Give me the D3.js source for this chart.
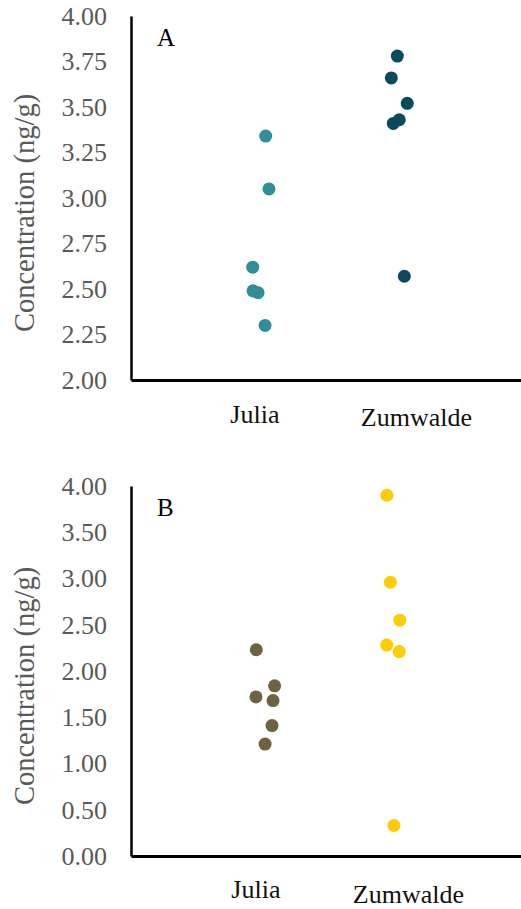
<!DOCTYPE html>
<html>
<head>
<meta charset="utf-8">
<script src="https://cdn.jsdelivr.net/npm/d3@7"></script>
<style>
  body { margin: 0; background: #fff; }
  svg text { font-family: "Times New Roman", "Liberation Serif", Times, "DejaVu Serif", serif !important; }
</style>
</head>
<body>
<div id="chart"></div>
<script>
// categories on the x axis
const categories = ['Julia', 'Zumwalde'];

// panel A values (ng/g) and jittered x positions
const aJuliaY = [3.34, 3.05, 2.62, 2.49, 2.48, 2.30];
const aJuliaX = [1.079, 1.099, 0.999, 1.001, 1.032, 1.075];
const aZumY = [3.78, 3.66, 3.52, 3.41, 3.43, 2.57];
const aZumX = [1.889, 1.852, 1.950, 1.864, 1.901, 1.932];
const aTicks = [2.00, 2.25, 2.50, 2.75, 3.00, 3.25, 3.50, 3.75, 4.00];

// panel B values (ng/g) and jittered x positions
const bJuliaY = [2.23, 1.84, 1.72, 1.68, 1.41, 1.21];
const bJuliaX = [1.021, 1.134, 1.019, 1.124, 1.118, 1.075];
const bZumY = [3.90, 2.96, 2.55, 2.28, 2.21, 0.33];
const bZumX = [1.825, 1.846, 1.904, 1.824, 1.901, 1.868];
const bTicks = [0.00, 0.50, 1.00, 1.50, 2.00, 2.50, 3.00, 3.50, 4.00];

const width = 521, height = 909;

const svg = d3.select('#chart').append('svg')
  .attr('width', width)
  .attr('height', height);

const x = d3.scaleLinear().domain([0.25, 2.65]).range([131, 521]);

function drawPanel(opts) {
  const y = d3.scaleLinear().domain(opts.domain).range([opts.bottom, opts.top]);
  const g = svg.append('g');

  // y axis (no tick marks, just the line and labels)
  const yAxis = g.append('g')
    .attr('transform', `translate(${x.range()[0]},0)`)
    .call(d3.axisLeft(y).tickValues(opts.ticks).tickSize(0).tickPadding(24).tickFormat(d3.format('.2f')));
  yAxis.attr('font-family', null);
  yAxis.select('.domain').attr('stroke', '#000').attr('stroke-width', 2.5);
  yAxis.selectAll('text')
    .attr('fill', '#595959')
    .style('font-size', '26px');

  // x axis line only
  const xAxis = g.append('g')
    .attr('transform', `translate(0,${opts.bottom})`)
    .call(d3.axisBottom(x).tickValues([]).tickSizeOuter(0));
  xAxis.select('.domain').attr('stroke', '#000').attr('stroke-width', 3);

  // category labels
  g.selectAll('.cat')
    .data(categories)
    .enter().append('text')
    .attr('x', (d, i) => x(i + 1) + opts.catShift[i])
    .attr('y', (d, i) => opts.bottom + opts.catDy[i])
    .attr('text-anchor', 'middle')
    .style('font-size', '26px')
    .attr('fill', '#111')
    .text(d => d);

  // y axis title
  g.append('text')
    .attr('transform', `translate(34,${(opts.top + opts.bottom) / 2 + 15}) rotate(-90)`)
    .attr('text-anchor', 'middle')
    .attr('fill', '#595959')
    .style('font-size', '28.5px')
    .text('Concentration (ng/g)');

  // panel letter
  g.append('text')
    .attr('x', 157)
    .attr('y', opts.top + 30)
    .style('font-size', '25px')
    .attr('fill', '#000')
    .text(opts.letter);

  // points
  opts.series.forEach(s => {
    g.selectAll(null)
      .data(s.ys.map((v, i) => ({ x: s.xs[i], y: v })))
      .enter().append('circle')
      .attr('cx', d => x(d.x))
      .attr('cy', d => y(d.y))
      .attr('r', 6.5)
      .attr('fill', s.color);
  });
}

drawPanel({
  letter: 'A', domain: [2, 4], ticks: aTicks, top: 16, bottom: 380,
  catShift: [2, 1], catDy: [43, 46],
  series: [
    { xs: aJuliaX, ys: aJuliaY, color: '#2f8e9a' },
    { xs: aZumX, ys: aZumY, color: '#0a4a5e' }
  ]
});

drawPanel({
  letter: 'B', domain: [0, 4], ticks: bTicks, top: 486, bottom: 856,
  catShift: [3, -7], catDy: [42, 47],
  series: [
    { xs: bJuliaX, ys: bJuliaY, color: '#6f6243' },
    { xs: bZumX, ys: bZumY, color: '#ffcc00' }
  ]
});
</script>
</body>
</html>
